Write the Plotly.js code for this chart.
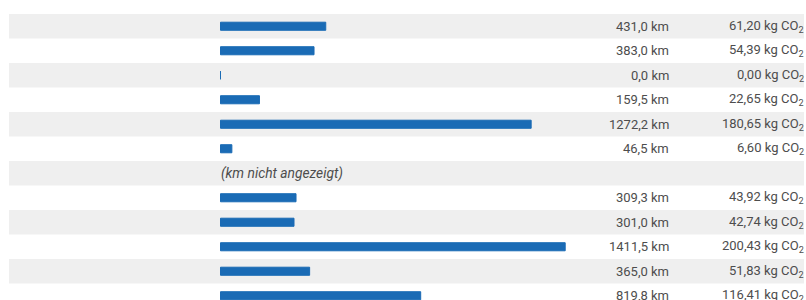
<!DOCTYPE html>
<html>
<head>
<meta charset="utf-8">
<script src="https://cdn.plot.ly/plotly-3.0.1.min.js"></script>
<style>
html,body{margin:0;padding:0;background:#fff;}
#chart{width:806px;height:300px;}
</style>
</head>
<body>
<div id="chart"></div>
<script>
// Data
const rows = [0,1,2,3,4,5,6,7,8,9,10,11];
const kmValues = [431.0, 383.0, 0.0, 159.5, 1272.2, 46.5, null, 309.3, 301.0, 1411.5, 365.0, 819.8];
const co2Values = [61.20, 54.39, 0.00, 22.65, 180.65, 6.60, null, 43.92, 42.74, 200.43, 51.83, 116.41];
const hiddenLabel = "(km nicht angezeigt)";

const fmt = (v, d) => v.toFixed(d).replace('.', ',');

const barColor = '#1a6bb5';
const textColor = '#4d4d4d';
const stripeColor = '#efefef';

const trace = {
  type: 'bar',
  orientation: 'h',
  x: kmValues,
  y: rows,
  width: 0.33,
  marker: {color: barColor, line: {color: barColor, width: 1}},
  hoverinfo: 'skip'
};

const shapes = [];
rows.forEach((r, i) => {
  if (i % 2 === 0) {
    shapes.push({
      type: 'rect', xref: 'paper', yref: 'y', layer: 'below',
      x0: 9/806, x1: 804/806, y0: r - 0.5, y1: r + 0.5,
      fillcolor: stripeColor, line: {width: 0}
    });
  }
});

const annotations = [];
rows.forEach((r, i) => {
  if (kmValues[i] === null) {
    annotations.push({
      xref: 'x', yref: 'y', x: 0, y: r, xanchor: 'left', yanchor: 'middle',
      xshift: -2,
      text: '<i>' + hiddenLabel + '</i>', showarrow: false,
      font: {family: 'Roboto', size: 13.8, color: textColor}
    });
  } else {
    annotations.push({
      xref: 'paper', yref: 'y', x: 671/806, y: r, xanchor: 'right', yanchor: 'middle',
      text: fmt(kmValues[i], 1) + ' km', showarrow: false,
      font: {family: 'Roboto', size: 13, color: textColor}
    });
    annotations.push({
      xref: 'paper', yref: 'y', x: 1, y: r, xanchor: 'right', yanchor: 'middle',
      text: fmt(co2Values[i], 2) + ' kg CO<sub>2</sub>', showarrow: false,
      font: {family: 'Roboto', size: 13, color: textColor}
    });
  }
});

const pxPerKm = 0.2442;
const x0px = 220.5;
const layout = {
  width: 806, height: 300,
  margin: {l: 0, r: 0, t: 0, b: 0, pad: 0},
  paper_bgcolor: '#ffffff', plot_bgcolor: 'rgba(0,0,0,0)',
  showlegend: false,
  xaxis: {range: [-x0px/pxPerKm, (806-x0px)/pxPerKm], visible: false, fixedrange: true},
  yaxis: {range: [(300-26.25)/24.5, -26.25/24.5], visible: false, fixedrange: true},
  shapes: shapes,
  annotations: annotations
};

Plotly.newPlot('chart', [trace], layout, {displayModeBar: false, staticPlot: true});
</script>
</body>
</html>
